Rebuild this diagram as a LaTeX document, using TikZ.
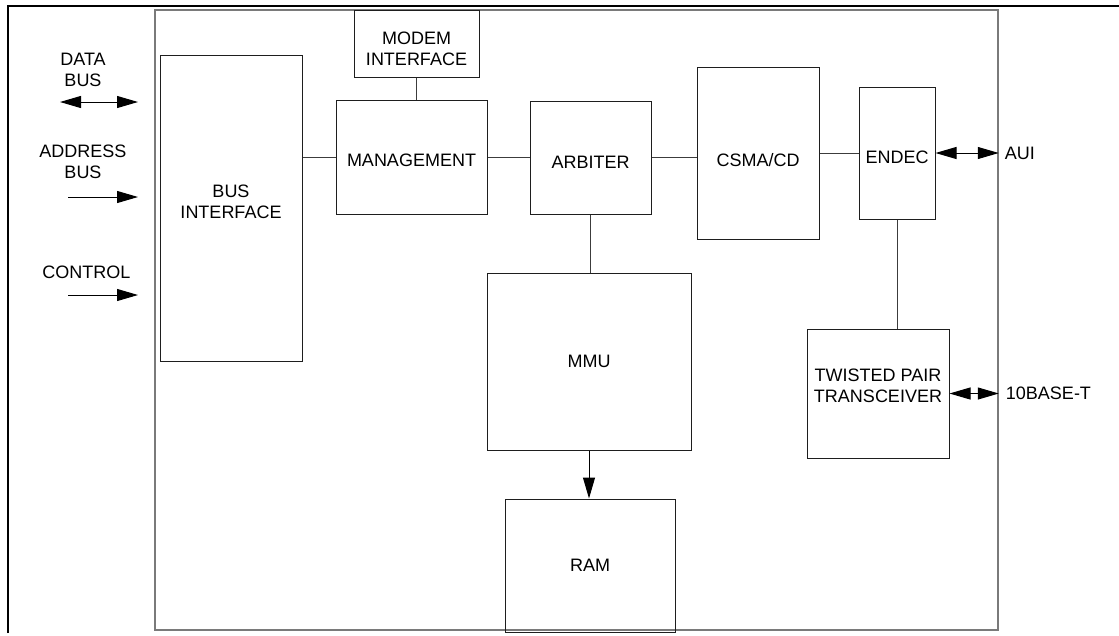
\documentclass[tikz,border=0pt]{standalone}
\usepackage{fontspec}
\setmainfont{Liberation Sans}
\usetikzlibrary{arrows.meta}
\definecolor{boxcol}{HTML}{1E1E1E}
\definecolor{framecol}{HTML}{7A7A7A}
\definecolor{wirecol}{HTML}{3C3C3C}
\begin{document}
\begin{tikzpicture}[x=1pt,y=-1pt,
  font=\fontsize{18}{21}\selectfont,
  box/.style={draw=boxcol, line width=1pt, inner sep=0pt, align=center},
  wire/.style={draw=wirecol, line width=1pt},
  oneway/.style={draw=black, line width=1pt, arrows={-Triangle[length=21pt,width=12pt]}},
  twoway/.style={draw=black, line width=1pt, arrows={Triangle[length=21pt,width=12pt]-Triangle[length=21pt,width=12pt]}},
  lbl/.style={inner sep=0pt, align=center}]
\useasboundingbox (0,0) rectangle (1119,635);
% outer frame
\draw[line width=2.5pt, black] (8,633) -- (8,6) -- (1119,6);
% chip frame
\node[draw=framecol, line width=1.5pt, minimum width=843pt, minimum height=620pt, inner sep=0pt] (chip) at (576.5,320) {};
% blocks
\node[box, minimum width=142pt, minimum height=306pt,
  label={[lbl,yshift=6pt]center:BUS\\INTERFACE}] (bus) at (231,208) {};
\node[box, minimum width=125pt, minimum height=67pt,
  label={[lbl,yshift=-5pt]center:MODEM\\INTERFACE}] (modem) at (416.5,43.5) {};
\node[box, minimum width=151pt, minimum height=114pt,
  label={[lbl,yshift=-3pt]center:MANAGEMENT}] (mgmt) at (411.5,157) {};
\node[box, minimum width=121pt, minimum height=113pt,
  label={[lbl,yshift=-5pt]center:ARBITER}] (arb) at (590.5,157.5) {};
\node[box, minimum width=122pt, minimum height=172pt,
  label={[lbl,yshift=-7pt]center:CSMA/CD}] (csma) at (758,153) {};
\node[box, minimum width=76pt, minimum height=132pt,
  label={[lbl,yshift=-4pt]center:ENDEC}] (endec) at (897,153) {};
\node[box, minimum width=142pt, minimum height=129pt,
  label={[lbl,yshift=8pt]center:TWISTED PAIR\\TRANSCEIVER}] (tp) at (878,393.5) {};
\node[box, minimum width=204pt, minimum height=177pt,
  label={[lbl]center:MMU}] (mmu) at (589,361.5) {};
\node[box, minimum width=170pt, minimum height=133pt,
  label={[lbl]center:RAM}] (ram) at (590,565.5) {};
% internal connections
\draw[wire] (modem.south) -- (modem.south |- mgmt.north);
\draw[wire] (mgmt.west) -- (mgmt.west -| bus.east);
\draw[wire] (mgmt.east) -- (mgmt.east -| arb.west);
\draw[wire] (arb.east) -- (arb.east -| csma.west);
\draw[wire] (csma.east) -- (csma.east -| endec.west);
\draw[wire] (arb.south) -- (arb.south |- mmu.north);
\draw[wire] (endec.south) -- (endec.south |- tp.north);
\draw[oneway] (mmu.south) -- (mmu.south |- ram.north);
% external ports
\coordinate (aui) at (chip.east |- endec.east);
\coordinate (tpx) at (chip.east |- tp.east);
\draw[twoway] (endec.east) -- (aui);
\draw[twoway] (tp.east) -- (tpx);
\node[lbl, anchor=west] (auil) at ([xshift=6pt]aui) {AUI};
\node[lbl, anchor=west] (tpl) at ([xshift=7pt]tpx) {10BASE-T};
% left side signals
\node[lbl] (datal) at (83,70) {DATA\\BUS};
\node[lbl] (addrl) at (83,162) {ADDRESS\\BUS};
\node[lbl] (ctrll) at (86.5,272) {CONTROL};
\coordinate (d1) at (60,102);
\coordinate (d2) at (138,102);
\coordinate (a1) at (68,197);
\coordinate (a2) at (138,197);
\coordinate (c1) at (68,295);
\coordinate (c2) at (138,295);
\draw[twoway] (d1) -- (d2);
\draw[oneway] (a1) -- (a2);
\draw[oneway] (c1) -- (c2);
\end{tikzpicture}
\end{document}
